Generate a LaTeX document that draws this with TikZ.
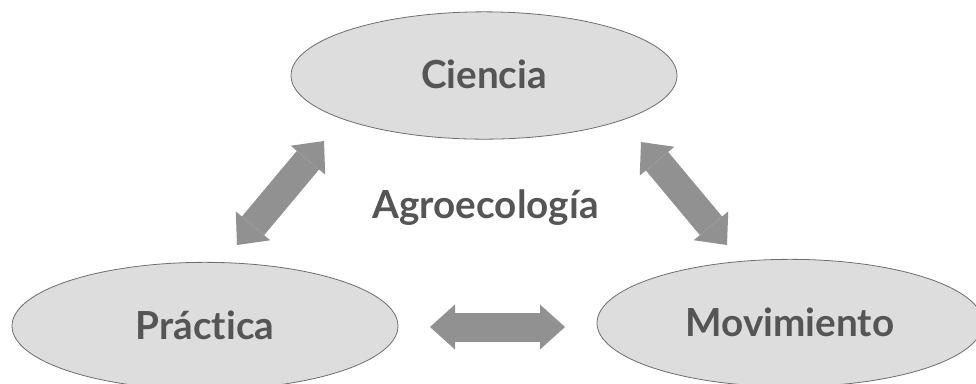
\documentclass[tikz,border=0pt]{standalone}
\usepackage{fontspec}
\setmainfont{Lato}[Ligatures=NoCommon]
\usetikzlibrary{arrows.meta, shapes.geometric}
\definecolor{ovalfill}{HTML}{DDDDDD}
\definecolor{ovalline}{HTML}{6E6E6E}
\definecolor{labeltext}{HTML}{555555}
\definecolor{arrowgray}{HTML}{919191}

\begin{document}
\begin{tikzpicture}[
    x=0.75pt, y=-0.75pt,
    oval/.style={ellipse, draw=ovalline, line width=0.6pt, fill=ovalfill, minimum width=289.5pt, minimum height=95.5pt, inner sep=0pt, text=labeltext, text height=20pt, text depth=0pt, font=\fontsize{29}{33}\selectfont\bfseries},
    title/.style={text=labeltext, inner sep=0pt, anchor=base, font=\fontsize{29}{33}\selectfont\bfseries},
    twoway/.style={arrowgray, line width=21.75pt, {Triangle[length=18.75pt, width=33.75pt, line width=0pt]}-{Triangle[length=18.75pt, width=33.75pt, line width=0pt]}}
]
    \useasboundingbox (0,0) rectangle (976,383);
    \clip (0,0) rectangle (976,383);

    \node[oval] (cien) at (484,75.5) {Ciencia};
    \node[oval] (prac) at (205,326) {Práctica};
    \node[oval] (movi) at (790,323) {Movimiento};
    \node[title] (agro) at (485.5,218) {Agroecología};

    % ends of the block arrows
    \coordinate (cienL) at (324,141);
    \coordinate (pracT) at (237,245);
    \coordinate (cienR) at (641,142);
    \coordinate (moviT) at (727,245);
    \coordinate (pracR) at (430,327);
    \coordinate (moviL) at (565,327);

    \draw[twoway] (cienL) -- (pracT);
    \draw[twoway] (cienR) -- (moviT);
    \draw[twoway] (pracR) -- (moviL);
\end{tikzpicture}
\end{document}
